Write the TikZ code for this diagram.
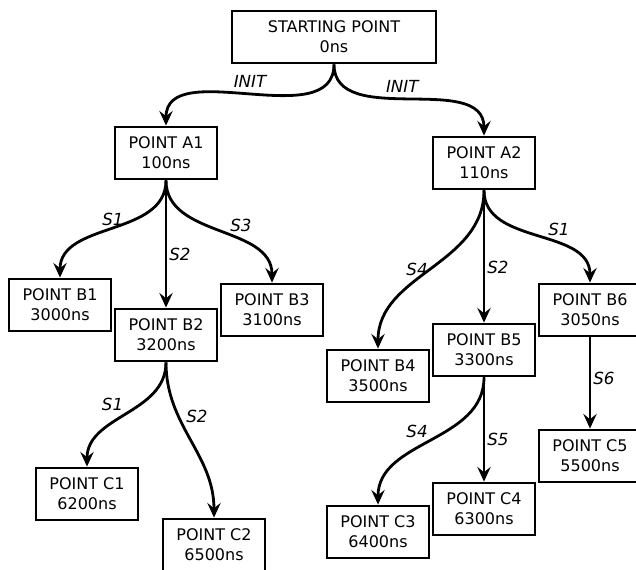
\documentclass[tikz,border=0pt]{standalone}
\usepackage{fontspec}
\setmainfont{DejaVu Sans}
\usetikzlibrary{arrows.meta}

\begin{document}
\begin{tikzpicture}[x=0.75pt, y=0.75pt, line width=2.1pt,
	main node/.style={rectangle,draw,align=center,minimum width=76.5pt,minimum height=39pt,inner sep=2pt,font=\fontsize{12}{15}\selectfont},
	every edge/.style={draw,-{Stealth[length=11pt,width=10pt,inset=4pt]}}]

	\useasboundingbox (0,0) rectangle (636,-569);

	\node[main node, minimum width=153pt] (s) at (334,-37) {STARTING POINT\\0ns};
	\node[main node] (a1) at (166,-153) {POINT A1\\100ns};
	\node[main node] (a2) at (484,-163) {POINT A2\\110ns};
	\node[main node] (b1) at (60,-305) {POINT B1\\3000ns};
	\node[main node] (b2) at (166,-335) {POINT B2\\3200ns};
	\node[main node] (b3) at (272,-310) {POINT B3\\3100ns};
	\node[main node] (b4) at (378,-376) {POINT B4\\3500ns};
	\node[main node] (b5) at (484,-350) {POINT B5\\3300ns};
	\node[main node] (b6) at (590,-310) {POINT B6\\3050ns};
	\node[main node] (c1) at (87,-494) {POINT C1\\6200ns};
	\node[main node] (c2) at (214,-545) {POINT C2\\6500ns};
	\node[main node] (c3) at (378,-532) {POINT C3\\6400ns};
	\node[main node] (c4) at (484,-509) {POINT C4\\6300ns};
	\node[main node] (c5) at (590,-456) {POINT C5\\5500ns};

	\path[every node/.style={font=\fontsize{12.5}{14}\selectfont\itshape,inner sep=1.5pt}]
	(s) edge[out=-90,in=90] node[above,yshift=3pt] {INIT} (a1)
	    edge[out=-90,in=90] node[above,yshift=3pt,pos=0.47] {INIT} (a2)
	(a1) edge[out=-90,in=90] node[above] {S1} (b1)
	     edge node[right,pos=0.58] {S2} (b2)
	     edge[out=-90,in=90] node[above right,pos=0.55] {S3} (b3)
	(a2) edge[out=-90,in=90] node[left] {S4} (b4)
	     edge node[right,pos=0.58] {S2} (b5)
	     edge[out=-90,in=90] node[above right,pos=0.55] {S1} (b6)
	(b2) edge[out=-90,in=90] node[above left] {S1} (c1)
	     edge[out=-90,in=90] node[above right,pos=0.4] {S2} (c2)
	(b5) edge[out=-90,in=90] node[above left] {S4} (c3)
	     edge node[right,pos=0.6] {S5} (c4)
	(b6) edge node[right,pos=0.45] {S6} (c5);

\end{tikzpicture}
\end{document}
